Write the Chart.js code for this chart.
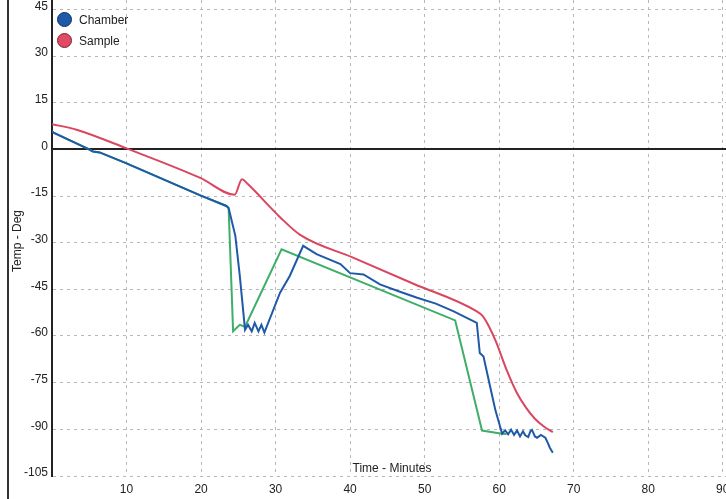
<!DOCTYPE html>
<html>
<head>
<meta charset="utf-8">
<script src="https://cdn.jsdelivr.net/npm/chart.js@4"></script>
<style>
  html, body { margin: 0; padding: 0; background: #fff; overflow: hidden; }
  #wrap { position: relative; width: 726px; height: 499px; overflow: hidden; }
  #edge { position: absolute; left: 7px; top: 0; width: 2px; height: 499px; background: #333; }
  #legend { position: absolute; left: 57px; top: 9px; font: 12px "Liberation Sans", Arial, sans-serif; color: #222; }
  #xtitle { position: absolute; left: 342px; width: 100px; top: 461px; text-align: center; font: 12px "Liberation Sans", Arial, sans-serif; color: #222; }
  #ytitle { position: absolute; left: -23px; top: 234px; width: 80px; text-align: center; transform: rotate(-90deg); font: 12px "Liberation Sans", Arial, sans-serif; color: #222; }
</style>
</head>
<body>
<div id="wrap">
  <canvas id="temp_chart" width="760" height="499"></canvas>
  <div id="edge"></div>
  <div id="legend"></div>
  <div id="xtitle">Time - Minutes</div>
  <div id="ytitle">Temp - Deg</div>
</div>
<script>
// Chamber temperature (blue)
const chamberTime = [0, 0.2, 4.7, 5.5, 6.4, 10, 19.9, 23.4, 23.7, 24.6, 25.2, 25.9, 26.3, 26.8, 27.2, 27.7, 28.1, 28.5,
  30.6, 31.9, 33.7, 35.5, 38.7, 40, 41.8, 44, 46.5, 49, 51.5, 53.9, 57, 57.4, 57.9, 58.8, 59.5, 60.4, 60.8, 61.2, 61.6,
  62.0, 62.4, 62.8, 63.2, 63.5, 63.9, 64.2, 64.4, 64.8, 65.1, 65.6, 66.2, 66.5, 66.8, 67.2];
const chamberTemp = [5.8, 5.4, 0.3, -0.7, -1, -4.5, -14.8, -18.2, -18.9, -27.8, -40.7, -58, -56.4, -58.5, -55.8, -58.5, -56.4, -58.9,
  -46.1, -40.7, -31, -33.7, -36.9, -39.8, -40.2, -43.4, -45.6, -47.7, -49.6, -52.1, -55.8, -65.5, -66.6, -76.4, -83.9, -91.4, -90.3, -91.6, -90.1,
  -91.8, -90.4, -92.3, -90.6, -91.9, -92.5, -90.6, -90.2, -92.3, -92.7, -91.8, -92.7, -94.2, -95.9, -97.5];

// Sample temperature (red)
const sampleTime = [0, 3.3, 10, 19.9, 24.5, 25.5, 26.2, 30.6, 33.3, 40.4, 48.5, 57, 57.8, 58.6, 59.6, 61, 62.4, 63.6, 64.8, 66, 67.2];
const sampleTemp = [8.1, 6.3, 0.3, -9.2, -14.6, -9.6, -11, -21.8, -27.5, -34.8, -43.2, -52.1, -53.6, -56.8, -62, -70.9, -78.4, -83, -86.6, -89.1, -90.9];

// Setpoint (green, no legend entry)
const setpointTime = [0, 0.2, 4.7, 5.5, 6.4, 10, 19.9, 23.4, 23.7, 24.3, 25.2, 25.9, 30.8, 54.1, 57.7, 60.4, 61];
const setpointTemp = [5.8, 5.4, 0.3, -0.7, -1, -4.5, -14.8, -18.2, -18.9, -58.5, -56.4, -57, -32.1, -55, -90.4, -91.4, -91.5];

const toPoints = (xs, ys) => xs.map((x, i) => ({ x: x, y: ys[i] }));

const data = {
  datasets: [
    { label: 'Chamber', data: toPoints(chamberTime, chamberTemp), borderColor: '#1f5aa8', backgroundColor: '#1f5aa8' },
    { label: 'Sample', data: toPoints(sampleTime, sampleTemp), borderColor: '#d9465f', backgroundColor: '#e04a62', cubicInterpolationMode: 'monotone' },
    { label: 'Setpoint', data: toPoints(setpointTime, setpointTemp), borderColor: '#3fae68', backgroundColor: '#3fae68' }
  ]
};

// Legend drawn as html, only Chamber and Sample.
const legendBorders = { Chamber: '#0e2f66', Sample: '#7a2233' };
const legendBox = document.getElementById('legend');
data.datasets.slice(0, 2).forEach(ds => {
  const row = document.createElement('div');
  row.style.display = 'flex';
  row.style.alignItems = 'center';
  row.style.height = '21px';
  const dot = document.createElement('span');
  dot.style.display = 'inline-block';
  dot.style.width = '13px';
  dot.style.height = '13px';
  dot.style.borderRadius = '50%';
  dot.style.background = ds.backgroundColor;
  dot.style.border = '1.5px solid ' + legendBorders[ds.label];
  dot.style.marginRight = '7px';
  row.appendChild(dot);
  row.appendChild(document.createTextNode(ds.label));
  legendBox.appendChild(row);
});

const tickFont = { family: '"Liberation Sans", Arial, sans-serif', size: 12 };

new Chart(document.getElementById('temp_chart'), {
  type: 'line',
  data: data,
  options: {
    responsive: false,
    animation: false,
    layout: { padding: 0 },
    elements: {
      line: { borderWidth: 2, tension: 0 },
      point: { radius: 0 }
    },
    plugins: {
      legend: { display: false },
      tooltip: { enabled: false }
    },
    scales: {
      x: {
        type: 'linear',
        min: 0,
        max: 95,
        ticks: {
          stepSize: 10,
          includeBounds: false,
          padding: 6,
          color: '#222',
          font: tickFont,
          maxRotation: 0,
          callback: v => v === 0 ? '' : v
        },
        grid: { color: '#b8b8b8', lineWidth: 1, drawTicks: false },
        border: { display: false, dash: [3, 4] },
        afterFit: s => { s.height = 23; s.paddingLeft = 0; s.paddingRight = 0; }
      },
      y: {
        min: -105,
        max: 48,
        ticks: {
          stepSize: 15,
          includeBounds: false,
          padding: 4,
          labelOffset: -3,
          color: '#222',
          font: tickFont
        },
        grid: {
          drawTicks: false,
          color: c => c.tick && c.tick.value === 0 ? '#222' : '#b8b8b8',
          lineWidth: c => c.tick && c.tick.value === 0 ? 2 : 1
        },
        border: {
          display: true,
          color: '#222',
          width: 2,
          dash: c => c.tick && c.tick.value === 0 ? [] : [3, 4]
        },
        afterFit: s => { s.width = 52; s.paddingTop = 0; s.paddingBottom = 0; }
      }
    }
  }
});
</script>
</body>
</html>
